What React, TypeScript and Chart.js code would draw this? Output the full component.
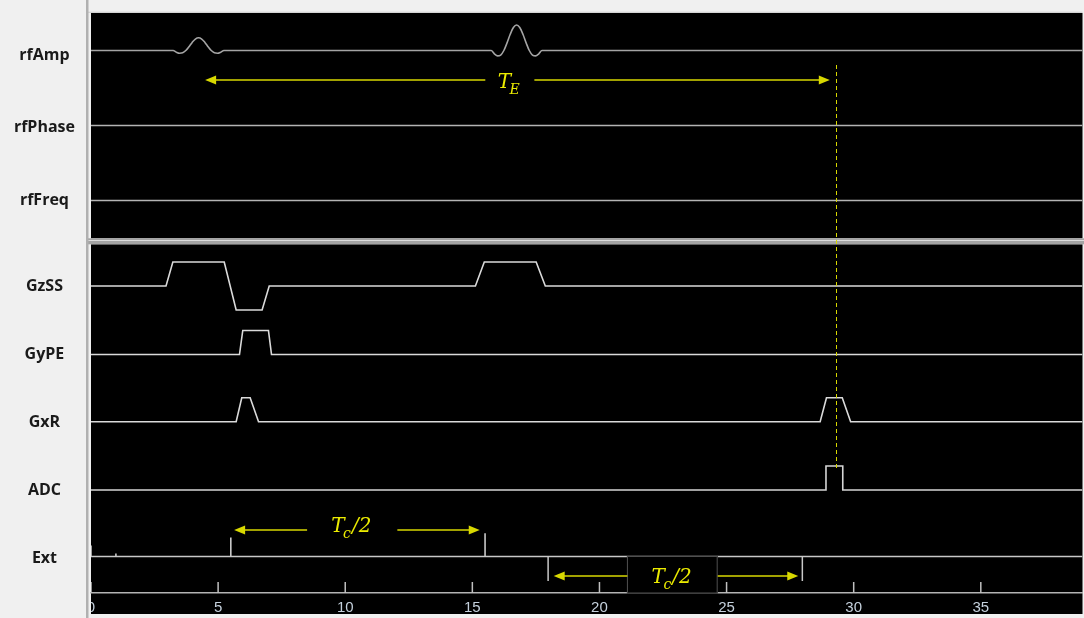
import React, { useEffect, useRef } from 'react';
import { Chart, registerables } from 'chart.js';

Chart.register(...registerables);

// ---------- data ----------
const channelNames = ['rfAmp', 'rfPhase', 'rfFreq', 'GzSS', 'GyPE', 'GxR', 'ADC', 'Ext'];
const xTicks = [0, 5, 10, 15, 20, 25, 30, 35];
const timeMax = 39;

// [time, normalized amplitude]
const rfAmp: [number, number][] = [
  [0, 0], [3.23, 0], [3.355, -0.065], [3.48, -0.106], [3.605, -0.09], [3.73, 0], [3.855, 0.15],
  [3.98, 0.318], [4.105, 0.45], [4.23, 0.5], [4.355, 0.45], [4.48, 0.318], [4.605, 0.15], [4.73, 0],
  [4.855, -0.09], [4.98, -0.106], [5.105, -0.065], [5.23, 0],
  [15.74, 0], [15.865, -0.129], [15.99, -0.212], [16.115, -0.18], [16.24, 0], [16.365, 0.3],
  [16.49, 0.637], [16.615, 0.9], [16.74, 1], [16.865, 0.9], [16.99, 0.637], [17.115, 0.3], [17.24, 0],
  [17.365, -0.18], [17.49, -0.212], [17.615, -0.129], [17.74, 0], [39, 0],
];
const rfPhase: [number, number][] = [[0, 0], [39, 0]];
const rfFreq: [number, number][] = [[0, 0], [39, 0]];
const gzSS: [number, number][] = [
  [0, 0], [2.95, 0], [3.22, 1], [5.24, 1], [5.71, -1], [6.73, -1], [7.01, 0],
  [15.12, 0], [15.47, 1], [17.51, 1], [17.87, 0], [39, 0],
];
const gyPE: [number, number][] = [[0, 0], [5.84, 0], [5.97, 1], [6.98, 1], [7.1, 0], [39, 0]];
const gxR: [number, number][] = [
  [0, 0], [5.71, 0], [5.93, 1], [6.26, 1], [6.59, 0],
  [28.68, 0], [28.93, 1], [29.55, 1], [29.88, 0], [39, 0],
];
const adc: [number, number][] = [[0, 0], [28.91, 0], [28.91, 1], [29.57, 1], [29.57, 0], [39, 0]];
const ext: [number, number][] = [
  [0, 0.46], [0, 0], [0.98, 0], [0.98, 0.12], [0.98, 0], [5.5, 0], [5.5, 0.79], [5.5, 0],
  [15.5, 0], [15.5, 0.97], [15.5, 0], [39, 0],
];

// annotations (time / axis units)
const arrowFrom = [4.49, 5.63, 18.2];
const arrowTo = [29.06, 15.29, 27.82];
const arrowLevel = [513, 63, 17];
const arrowGapFrom = [15.51, 8.5, 21.1];
const arrowGapTo = [17.44, 12.05, 24.65];
const labelMain = ['T', 'T', 'T'];
const labelSub = ['E', 'c', 'c'];
const labelTail = ['', '/2', '/2'];
const labelX = [16.0, 9.45, 22.05];
const labelY = [505.5, 61, 9.7];
const boxed = [false, false, true];
const echoT = 29.29;
const echoFrom = 528;
const echoTo = 125;
const markerT = [17.98, 27.98];
const markerTop = 36;
const markerBottom = 12;

// ---------- layout ----------
const channelBase = [542.5, 467.5, 392.5, 307, 238.5, 171.3, 103, 36.5];
const channelLabelPos = [538, 465.5, 393, 307, 238.5, 170.5, 103, 35];
const channelGain = [25.5, 1, 1, 24, 24, 24, 24, 24];
const channelColor = ['#a4a4a4', '#b4b4b4', '#b4b4b4', '#dadada', '#dadada', '#dadada', '#d6d6d6', '#c8c8c8'];
const yMax = 580;
const W = 1084;
const H = 618;
const YELLOW_LINE = '#d8d800';
const YELLOW_TEXT = '#ecec00';

const bgPlugin = {
  id: 'bg',
  beforeDraw(chart: any) {
    const ctx = chart.ctx;
    const { left, right, top } = chart.chartArea;
    ctx.save();
    ctx.fillStyle = '#f0f0f0';
    ctx.fillRect(0, 0, chart.width, chart.height);
    ctx.fillStyle = '#d4d4d4';
    ctx.fillRect(left - 3, top - 1.3, right - left + 3, 1.3);
    ctx.fillStyle = '#000';
    ctx.fillRect(left, top, right - left, 238.3 - top);
    ctx.fillRect(left, 244.3, right - left, 614 - 244.3);
    ctx.fillStyle = '#a4a4a4';
    ctx.fillRect(left - 3, 238.3, right - left + 5, 6);
    ctx.fillStyle = '#dcdcdc';
    ctx.fillRect(left - 3, 240, right - left + 5, 1);
    ctx.restore();
  },
  afterDraw(chart: any) {
    const ctx = chart.ctx;
    const { left } = chart.chartArea;
    ctx.save();
    ctx.fillStyle = '#f0f0f0';
    ctx.fillRect(left - 10, 594, 10, 24);
    ctx.fillStyle = '#b0b0b0';
    ctx.fillRect(left - 5, 0, 2.5, chart.height);
    ctx.restore();
  },
};

function arrowHead(ctx: CanvasRenderingContext2D, x: number, y: number, dir: number) {
  ctx.beginPath();
  ctx.moveTo(x, y);
  ctx.lineTo(x - dir * 11, y - 4.5);
  ctx.lineTo(x - dir * 11, y + 4.5);
  ctx.closePath();
  ctx.fill();
}

const annPlugin = {
  id: 'ann',
  afterDatasetsDraw(chart: any) {
    const ctx: CanvasRenderingContext2D = chart.ctx;
    const xs = chart.scales.x;
    const ys = chart.scales.y;
    const X = (t: number) => xs.getPixelForValue(t);
    const Y = (v: number) => ys.getPixelForValue(v);
    const area = chart.chartArea;
    ctx.save();

    ctx.save();
    ctx.beginPath();
    ctx.rect(area.left, area.top, area.right - area.left, area.bottom - area.top + 2);
    ctx.clip();
    ctx.strokeStyle = '#c0c0c0';
    ctx.lineWidth = 1.5;
    xTicks.forEach((t) => {
      ctx.beginPath();
      ctx.moveTo(X(t), area.bottom - 11);
      ctx.lineTo(X(t), area.bottom);
      ctx.stroke();
    });
    ctx.restore();

    ctx.strokeStyle = '#c8c8c8';
    ctx.lineWidth = 1.5;
    markerT.forEach((t) => {
      ctx.beginPath();
      ctx.moveTo(X(t), Y(markerTop));
      ctx.lineTo(X(t), Y(markerBottom));
      ctx.stroke();
    });

    for (let i = 0; i < arrowFrom.length; i++) {
      const y = Y(arrowLevel[i]);
      if (boxed[i]) {
        const bx0 = X(arrowGapFrom[i]) - 0.5;
        const bx1 = X(arrowGapTo[i]);
        const by0 = Y(channelBase[7]) - 0.5;
        const by1 = area.bottom + 0.5;
        ctx.fillStyle = '#000';
        ctx.fillRect(bx0, by0, bx1 - bx0, by1 - by0);
        ctx.strokeStyle = '#505050';
        ctx.lineWidth = 1;
        ctx.strokeRect(bx0 + 0.5, by0 + 0.5, bx1 - bx0 - 1, by1 - by0 - 1);
      }
      ctx.strokeStyle = YELLOW_LINE;
      ctx.fillStyle = YELLOW_LINE;
      ctx.lineWidth = 1.5;
      const x0 = X(arrowFrom[i]);
      const x1 = X(arrowTo[i]);
      ctx.beginPath();
      ctx.moveTo(x0 + 8, y);
      ctx.lineTo(X(arrowGapFrom[i]), y);
      ctx.moveTo(X(arrowGapTo[i]), y);
      ctx.lineTo(x1 - 8, y);
      ctx.stroke();
      arrowHead(ctx, x0, y, -1);
      arrowHead(ctx, x1, y, 1);

      ctx.fillStyle = YELLOW_TEXT;
      ctx.textBaseline = 'alphabetic';
      ctx.textAlign = 'left';
      let lx = X(labelX[i]);
      const ly = Y(labelY[i]);
      ctx.font = 'italic 20px "DejaVu Serif"';
      ctx.fillText(labelMain[i], lx, ly);
      lx += ctx.measureText(labelMain[i]).width - 1.5;
      ctx.font = 'italic 14px "DejaVu Serif"';
      ctx.fillText(labelSub[i], lx, ly + 6);
      lx += ctx.measureText(labelSub[i]).width + 1;
      if (labelTail[i]) {
        ctx.font = 'italic 20px "DejaVu Serif"';
        ctx.fillText(labelTail[i], lx, ly);
      }
    }

    ctx.strokeStyle = YELLOW_LINE;
    ctx.lineWidth = 1;
    ctx.setLineDash([4, 3]);
    ctx.beginPath();
    ctx.moveTo(Math.round(X(echoT)) + 0.5, Y(echoFrom));
    ctx.lineTo(Math.round(X(echoT)) + 0.5, Y(echoTo));
    ctx.stroke();
    ctx.setLineDash([]);
    ctx.restore();
  },
};

export default function App() {
  const ref = useRef<HTMLCanvasElement>(null);
  useEffect(() => {
    document.body.style.margin = '0';
    const canvas = ref.current!;
    const series = [rfAmp, rfPhase, rfFreq, gzSS, gyPE, gxR, adc, ext];
    const chart = new Chart(canvas, {
      type: 'line',
      data: {
        datasets: series.map((s, i) => ({
          label: channelNames[i],
          data: s.map(([t, a]) => ({ x: t, y: channelBase[i] + a * channelGain[i] })),
          borderColor: channelColor[i],
          borderWidth: 1.6,
          pointRadius: 0,
          fill: false,
          tension: 0,
          cubicInterpolationMode: i === 0 ? 'monotone' : 'default',
        })) as any,
      },
      options: {
        responsive: false,
        animation: false,
        events: [],
        layout: { padding: { top: 13, right: 1.5, left: 0, bottom: 0 } },
        plugins: { legend: { display: false }, tooltip: { enabled: false } },
        scales: {
          x: {
            type: 'linear',
            min: 0,
            max: timeMax,
            afterBuildTicks: (s: any) => {
              s.ticks = xTicks.map((v) => ({ value: v }));
            },
            afterFit: (s: any) => {
              s.height = H - 593;
              s.paddingLeft = 0;
              s.paddingRight = 0;
            },
            grid: { display: false, drawTicks: false },
            border: { display: true, color: '#b4b4b4', width: 1.5 },
            ticks: {
              color: '#c4d0dc',
              font: { family: 'Liberation Sans', size: 15 },
              padding: 6,
              maxRotation: 0,
              autoSkip: false,
            },
          },
          y: {
            type: 'linear',
            min: 0,
            max: yMax,
            afterBuildTicks: (s: any) => {
              s.ticks = channelLabelPos.map((v) => ({ value: v }));
            },
            afterFit: (s: any) => {
              s.width = 91;
              s.paddingTop = 0;
              s.paddingBottom = 0;
            },
            grid: { display: false, drawTicks: false },
            border: { display: false },
            ticks: {
              color: '#1a1a1a',
              font: { family: 'Open Sans', size: 16, weight: 'bold' },
              crossAlign: 'center',
              padding: 16,
              autoSkip: false,
              callback: (_v: any, i: number) => channelNames[i],
            },
          },
        },
      } as any,
      plugins: [bgPlugin, annPlugin],
    });
    return () => chart.destroy();
  }, []);
  return (
    <div style={{ position: 'fixed', left: 0, top: 0, width: W, height: H, background: '#f0f0f0' }}>
      <canvas ref={ref} width={W} height={H} style={{ width: W, height: H, display: 'block' }} />
    </div>
  );
}
